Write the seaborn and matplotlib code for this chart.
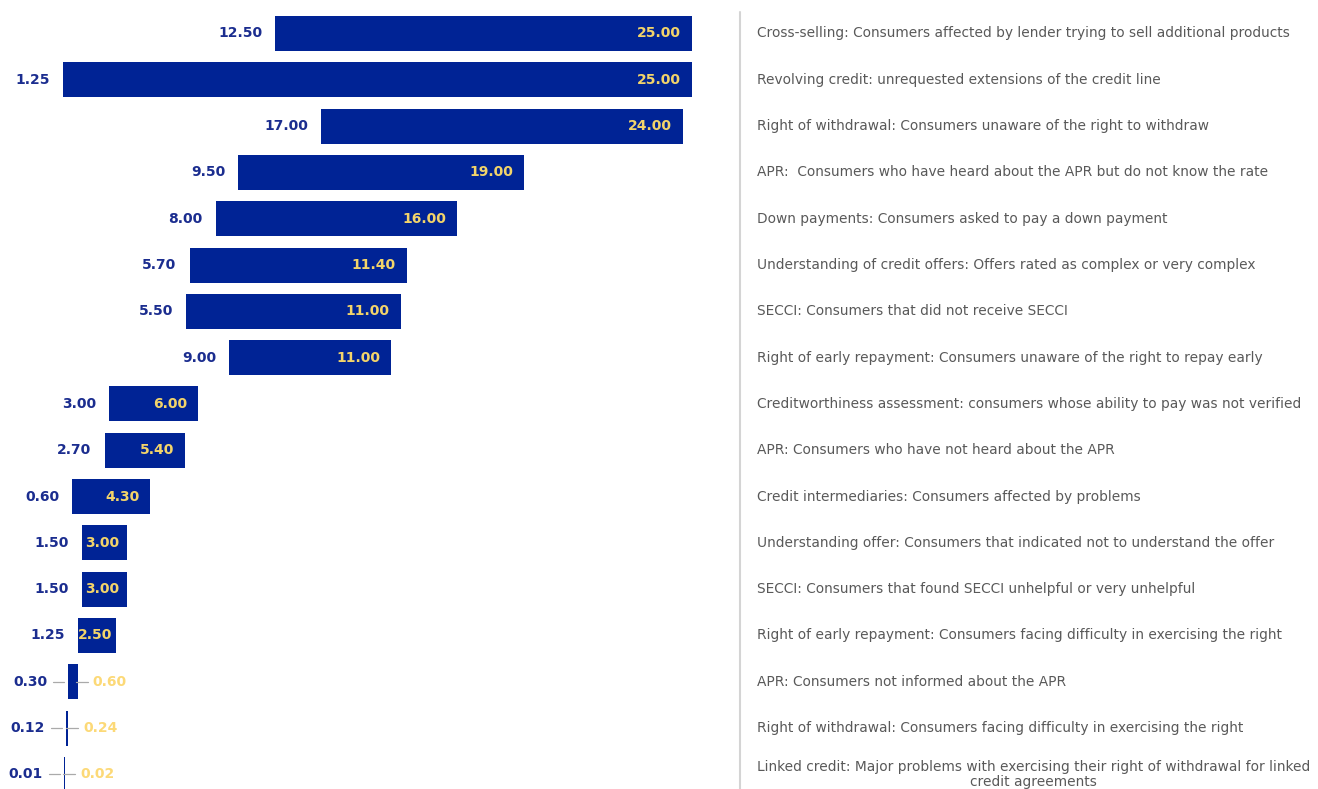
import matplotlib
matplotlib.use("Agg")
import matplotlib.pyplot as plt
import pandas as pd
import seaborn as sns

# categories, top to bottom
categories = [
    "Cross-selling: Consumers affected by lender trying to sell additional products",
    "Revolving credit: unrequested extensions of the credit line",
    "Right of withdrawal: Consumers unaware of the right to withdraw",
    "APR:  Consumers who have heard about the APR but do not know the rate",
    "Down payments: Consumers asked to pay a down payment",
    "Understanding of credit offers: Offers rated as complex or very complex",
    "SECCI: Consumers that did not receive SECCI",
    "Right of early repayment: Consumers unaware of the right to repay early",
    "Creditworthiness assessment: consumers whose ability to pay was not verified",
    "APR: Consumers who have not heard about the APR",
    "Credit intermediaries: Consumers affected by problems",
    "Understanding offer: Consumers that indicated not to understand the offer",
    "SECCI: Consumers that found SECCI unhelpful or very unhelpful",
    "Right of early repayment: Consumers facing difficulty in exercising the right",
    "APR: Consumers not informed about the APR",
    "Right of withdrawal: Consumers facing difficulty in exercising the right",
    "Linked credit: Major problems with exercising their right of withdrawal for linked\ncredit agreements",
]

# printed values (low / high estimate)
low_values = [12.50, 1.25, 17.00, 9.50, 8.00, 5.70, 5.50, 9.00, 3.00, 2.70,
              0.60, 1.50, 1.50, 1.25, 0.30, 0.12, 0.01]
high_values = [25.00, 25.00, 24.00, 19.00, 16.00, 11.40, 11.00, 11.00, 6.00,
               5.40, 4.30, 3.00, 3.00, 2.50, 0.60, 0.24, 0.02]

# bar extents as drawn in the source chart (not to scale with the printed values)
bar_from = [9.26, 1.25, 10.99, 7.86, 7.01, 6.03, 5.90, 7.52, 2.98, 2.82,
            1.60, 1.96, 1.96, 1.82, 1.45, 1.35, 1.29]
bar_to = [25.00, 25.00, 24.66, 18.66, 16.13, 14.24, 14.00, 13.64, 6.36, 5.85,
          4.54, 3.68, 3.68, 3.26, 1.81, 1.45, 1.34]

df = pd.DataFrame({
    "category": categories,
    "low": low_values,
    "high": high_values,
    "start": bar_from,
    "length": [b - a for a, b in zip(bar_from, bar_to)],
})

NAVY = "#002395"
LOW_COL = "#1b2d8f"
HIGH_COL = "#f3d46a"
TEXT_COL = "#595959"

sns.set_theme(style="white")
plt.rcParams["font.family"] = ["DejaVu Sans"]

fig = plt.figure(figsize=(13.18, 7.89), dpi=100)
ax = fig.add_axes([0, 0, 1, 1])

sns.barplot(data=df, x="length", y="category", orient="h", color=NAVY,
            width=0.756, left=df["start"].tolist(), linewidth=0, ax=ax,
            saturation=1)

xmin, xmax = -1.129, 48.64
ax.set_xlim(xmin, xmax)
ax.set_ylim(16.317, -0.7235)
ax.axis("off")

upp = (xmax - xmin) / 1318.0  # data units per pixel
pt = 72.0 / 100.0             # points per pixel

for i, row in df.iterrows():
    a, b = row["start"], row["start"] + row["length"]
    bar_px = row["length"] / upp
    if row["length"] < 0.5:
        ax.annotate(f"{row['low']:.2f}", (a, i), xytext=(-21 * pt, 0),
                    textcoords="offset points", ha="right", va="center",
                    color=LOW_COL, fontsize=10, fontweight="bold")
        ax.annotate(f"{row['high']:.2f}", (b, i), xytext=(15 * pt, 0),
                    textcoords="offset points", ha="left", va="center",
                    color="#fcd977", fontsize=10, fontweight="bold")
        ax.plot([a - 15 * upp, a - 4 * upp], [i, i], color="#aaaaaa", lw=0.9)
        ax.plot([b - 2 * upp, b + 10 * upp], [i, i], color="#aaaaaa", lw=0.9)
    else:
        gap = min(11, max(1, (bar_px - 34) / 2 + 2))
        ax.annotate(f"{row['low']:.2f}", (a, i), xytext=(-13 * pt, 0),
                    textcoords="offset points", ha="right", va="center",
                    color=LOW_COL, fontsize=10, fontweight="bold")
        ax.annotate(f"{row['high']:.2f}", (b, i), xytext=(-gap * pt, 0),
                    textcoords="offset points", ha="right", va="center",
                    color=HIGH_COL, fontsize=10, fontweight="bold")

# divider and category texts
ax.plot([740 / 1318] * 2, [0, 1 - 12 / 789], transform=ax.transAxes,
        color="#d4d4d4", lw=1.5, clip_on=False)
ytrans = ax.get_yaxis_transform()
for i, cat in enumerate(categories):
    ax.text(757 / 1318, i, cat, transform=ytrans, ha="left", va="center",
            multialignment="center", color=TEXT_COL, fontsize=9.9,
            linespacing=1.05)

fig.savefig("out.png", dpi=100)
